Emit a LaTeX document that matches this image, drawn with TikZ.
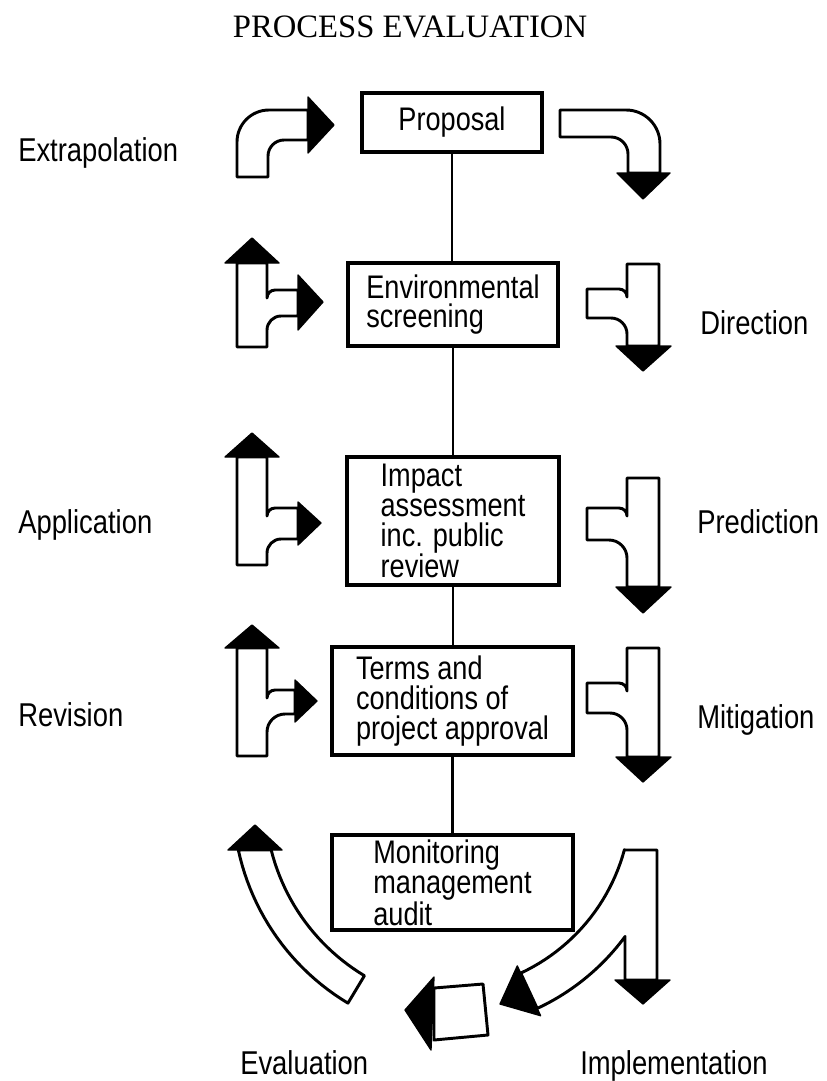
\documentclass[tikz,border=0pt]{standalone}
\usepackage{fontspec}
\newfontfamily\lblfont[FakeStretch=0.83]{Liberation Sans}
\newfontfamily\ttlfont{Liberation Serif}
\begin{document}
\begin{tikzpicture}[x=0.75pt,y=-0.75pt,
  boxnode/.style={draw=black, line width=2.4pt, fill=white, align=left, inner sep=0pt,
    font=\lblfont\fontsize{24.5pt}{22.4pt}\selectfont},
  lbl/.style={inner sep=0pt, anchor=base west, font=\lblfont\fontsize{24.75pt}{22pt}\selectfont},
  ttl/.style={inner sep=0pt, anchor=base, font=\ttlfont\fontsize{24.5pt}{26pt}\selectfont},
  conn/.style={draw=black, line width=1.8pt},
  body/.style={draw=black, line width=2.2pt, fill=white, line join=round},
  head/.style={draw=black, fill=black, line width=1pt, line join=round}]
\useasboundingbox (0,0) rectangle (827,1081);
\fill[white] (0,0) rectangle (827,1081);

% title
\node[ttl] (title) at (410,38) {PROCESS EVALUATION};

% boxes
\node[boxnode, minimum width=135pt, minimum height=44.25pt, align=center] (prop) at (452,122.5) {Proposal};
\node[boxnode, minimum width=157.5pt, minimum height=62.25pt] (env) at (453,304.5) {Environmental\\screening};
\node[boxnode, minimum width=159pt, minimum height=96pt] (imp) at (453,521) {Impact\\assessment\\inc. public\\review};
\node[boxnode, minimum width=180.75pt, minimum height=81pt] (terms) at (452.5,701) {Terms and\\conditions of\\project approval};
\node[boxnode, minimum width=180.75pt, minimum height=71.25pt] (mon) at (452.5,882.5) {Monitoring\\management\\audit};

% connectors
\draw[conn] (prop.south) -- (prop.south |- env.north);
\draw[conn] (env.south) -- (env.south |- imp.north);
\draw[conn] (imp.south) -- (imp.south |- terms.north);
\draw[conn] (terms.south) -- (terms.south |- mon.north);

% labels
\node[lbl] (lextrap) at (18,161) {Extrapolation};
\node[lbl] (ldir) at (700,334) {Direction};
\node[lbl] (lapp) at (18,533) {Application};
\node[lbl] (lpred) at (697,533) {Prediction};
\node[lbl] (lrev) at (18,726) {Revision};
\node[lbl] (lmit) at (697,728) {Mitigation};
\node[lbl] (leval) at (240,1074) {Evaluation};
\node[lbl] (limpl) at (580,1074) {Implementation};

% top-left bent arrow (Extrapolation)
\draw[body] (237,177) -- (237,142) .. controls (237,124.3) and (251.3,110) .. (269,110)
  -- (308,110) -- (308,140) -- (284,140) .. controls (275.2,140) and (268,147.2) .. (268,156)
  -- (268,177) -- cycle;
\draw[head] (308,97) -- (334,125) -- (308,153) -- cycle;

% top-right bent arrow
\draw[body] (560,110) -- (626,110) .. controls (644.8,110) and (660,125.2) .. (660,144)
  -- (660,173) -- (628,173) -- (628,154) .. controls (628,144.6) and (620.4,137) .. (611,137)
  -- (560,137) -- cycle;
\draw[head] (617,173) -- (670,173) -- (643,199) -- cycle;

% left T arrows
\draw[body] (237,347) -- (237,263) -- (267,263) -- (267,298) .. controls (267,293.6) and (270.6,290) .. (275,290)
  -- (298,290) -- (298,316) -- (281,316) .. controls (273.3,316) and (267,322.3) .. (267,330)
  -- (267,347) -- cycle;
\draw[head] (225,263) -- (252,238) -- (279,263) -- cycle;
\draw[head] (298,275) -- (323,302) -- (298,330) -- cycle;

\draw[body] (237,565) -- (237,457) -- (267,457) -- (267,516) .. controls (267,511.6) and (270.6,508) .. (275,508)
  -- (298,508) -- (298,539) -- (281,539) .. controls (273.3,539) and (267,545.3) .. (267,553)
  -- (267,565) -- cycle;
\draw[head] (225,457) -- (252,433) -- (279,457) -- cycle;
\draw[head] (298,502) -- (321,523) -- (298,545) -- cycle;

\draw[body] (237,756) -- (237,648) -- (267,648) -- (267,698) .. controls (267,693.6) and (270.6,690) .. (275,690)
  -- (295,690) -- (295,714) -- (285,714) .. controls (275.1,714) and (267,722.1) .. (267,732)
  -- (267,756) -- cycle;
\draw[head] (225,648) -- (252,625) -- (279,648) -- cycle;
\draw[head] (295,680) -- (317,701) -- (295,722) -- cycle;

% right T arrows
\draw[body] (627,264) -- (659,264) -- (659,346) -- (627,346) -- (627,334)
  .. controls (627,325.2) and (619.8,318) .. (611,318) -- (587,318) -- (587,289) -- (619,289)
  .. controls (623.4,289) and (627,292.6) .. (627,297) -- cycle;
\draw[head] (616,346) -- (671,346) -- (643,371) -- cycle;

\draw[body] (627,478) -- (659,478) -- (659,587) -- (627,587) -- (627,558)
  .. controls (627,548.1) and (618.9,540) .. (609,540) -- (587,540) -- (587,508) -- (619,508)
  .. controls (623.4,508) and (627,511.6) .. (627,516) -- cycle;
\draw[head] (616,587) -- (671,587) -- (643,613) -- cycle;

\draw[body] (627,648) -- (659,648) -- (659,757) -- (627,757) -- (627,730)
  .. controls (627,720.6) and (619.4,713) .. (610,713) -- (587,713) -- (587,683) -- (619,683)
  .. controls (623.4,683) and (627,686.6) .. (627,691) -- cycle;
\draw[head] (616,757) -- (671,757) -- (643,782) -- cycle;

% Evaluation curved arrow
\draw[body] (238.3,850) -- (271.2,850)
  -- plot[domain=165.9:121, samples=25] ({470+205*cos(\x)},{800+205*sin(\x)})
  -- plot[domain=121:167.8, samples=25] ({470+237*cos(\x)},{800+237*sin(\x)}) -- cycle;
\draw[head] (228,850) -- (255,825) -- (282,850) -- cycle;

% Implementation arrow
\draw[body] (625,850) -- (657,850) -- (657,980) -- (625,980) -- (625,936.5)
  -- plot[domain=36.4:65, samples=25] ({440+230*cos(\x)},{800+230*sin(\x)})
  -- plot[domain=65:15.1, samples=25] ({440+191*cos(\x)},{800+191*sin(\x)}) -- cycle;
\draw[head] (615,980) -- (670,980) -- (643,1004) -- cycle;
\draw[head] (517.3,965.9) -- (500,1004) -- (540.6,1015.7) -- cycle;

% small evaluation arrow
\draw[body] (434,988) -- (483,984) -- (488,1035) -- (434,1040) -- cycle;
\draw[head] (434,977) -- (405,1010) -- (431,1050) -- cycle;
\end{tikzpicture}
\end{document}
